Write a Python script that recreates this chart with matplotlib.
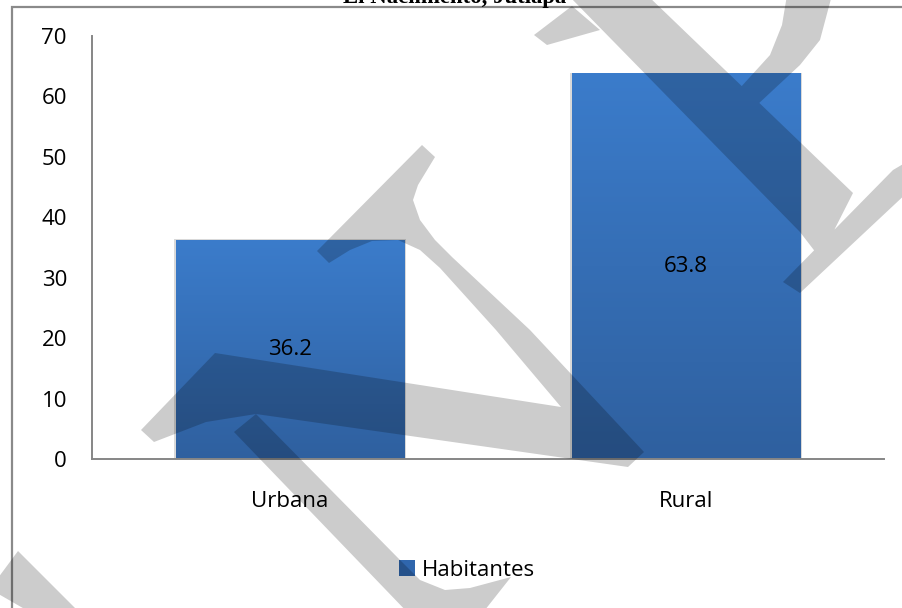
import matplotlib
matplotlib.use("Agg")
import matplotlib.pyplot as plt
import numpy as np
from matplotlib.colors import LinearSegmentedColormap
from matplotlib.patches import Rectangle, Patch, PathPatch
from matplotlib.path import Path

# datos
categorias = ["Urbana", "Rural"]
habitantes = [36.2, 63.8]
serie = "Habitantes"
titulo = "El Nacimiento, Jutiapa"
yticks = [0, 10, 20, 30, 40, 50, 60, 70]

W, H = 903, 608
plt.rcParams['font.family'] = ['Open Sans', 'DejaVu Sans']

fig = plt.figure(figsize=(W / 100, H / 100), dpi=100, facecolor='white')

# marco exterior del grafico
marco = Rectangle((12.5 / W, -0.05), 1.1, 1 - 7 / H + 0.05, transform=fig.transFigure,
                  fill=False, edgecolor='#8a8a8a', linewidth=1.6, clip_on=False)
fig.patches.append(marco)

# titulo (cortado arriba como en el original)
fig.text(455 / W, 1 - 2.5 / H, titulo, ha='center', va='baseline', fontsize=16.4,
         fontweight='bold', family='Liberation Serif')

ax = fig.add_axes([92 / W, 1 - 459 / H, (884 - 92) / W, (459 - 36) / H])
ax.set_facecolor('none')

x = np.arange(len(categorias))
ancho = 0.576
barras = ax.bar(x, habitantes, width=ancho, color='none', edgecolor='none', zorder=2)

# degradado azul en cada barra
cmap = LinearSegmentedColormap.from_list("azul", ["#2f609f", "#3b7ccb"])
grad = np.linspace(0, 1, 256).reshape(-1, 1)
for b in barras:
    x0 = b.get_x()
    x1 = x0 + b.get_width()
    h = b.get_height()
    # sombra suave
    ax.add_patch(Rectangle((x0 - 0.006, 0), b.get_width() + 0.012, h + 0.15,
                           facecolor='#d9d9d9', edgecolor='none', zorder=1))
    im = ax.imshow(grad, extent=[x0, x1, 0, h], origin='lower', aspect='auto',
                   cmap=cmap, zorder=2)
    im.set_clip_path(b)

for xi, v in zip(x, habitantes):
    ax.text(xi, v / 2, f"{v:.1f}", ha='center', va='center', fontsize=16, zorder=3)

ax.set_xlim(-0.5, len(categorias) - 0.5)
ax.set_ylim(0, 70)
ax.set_yticks(yticks)
ax.set_xticks(x)
ax.set_xticklabels(categorias)
ax.tick_params(axis='both', length=0, labelsize=16)
ax.tick_params(axis='y', pad=18)
ax.tick_params(axis='x', pad=23)
for s in ['top', 'right']:
    ax.spines[s].set_visible(False)
for s in ['left', 'bottom']:
    ax.spines[s].set_color('#868686')
    ax.spines[s].set_linewidth(1.4)

fig.legend(handles=[Patch(facecolor='#2f66ad', edgecolor='none', label=serie)],
           loc='center', bbox_to_anchor=(467 / W, 1 - 570 / H), frameon=False,
           fontsize=16, handlelength=0.75, handleheight=0.75, handletextpad=0.3)

# marca de agua gris (aproximada, en pixeles de la imagen)
marca = [
    [(317, 251), (422, 145), (435, 157), (418, 185), (413, 200), (420, 220), (435, 240),
     (452, 257), (530, 330), (644, 452), (628, 467), (561, 407), (496, 330), (440, 268),
     (420, 250), (398, 240), (372, 241), (350, 250), (329, 263)],
    [(141, 430), (215, 353), (561, 407), (628, 467), (256, 414), (206, 422), (154, 442)],
    [(234, 432), (256, 414), (400, 560), (420, 580), (445, 590), (470, 588), (511, 577),
     (481, 615), (410, 615)],
    [(-5, 582), (18, 551), (82, 615), (35, 615), (-5, 592)],
    [(534, 35), (572, 6), (600, 30), (547, 45)],
    [(568, -5), (647, -5), (853, 193), (820, 258), (800, 232)],
    [(783, 282), (893, 170), (910, 160), (910, 190), (800, 293)],
    [(787, -5), (832, -5), (820, 40), (800, 65), (757, 105), (740, 88), (770, 55), (782, 25)],
]
verts, codes = [], []
for poly in marca:
    p = np.array(poly, dtype=float)
    area = np.sum(p[:, 0] * np.roll(p[:, 1], -1) - np.roll(p[:, 0], -1) * p[:, 1])
    if area < 0:
        p = p[::-1]
    pts = [(px / W, 1 - py / H) for px, py in p]
    verts += pts + [pts[0]]
    codes += [Path.MOVETO] + [Path.LINETO] * (len(pts) - 1) + [Path.CLOSEPOLY]
fig.patches.append(PathPatch(Path(verts, codes), transform=fig.transFigure,
                             facecolor='black', alpha=0.2, edgecolor='none', zorder=10))

fig.savefig("out.png", dpi=100, facecolor='white')
